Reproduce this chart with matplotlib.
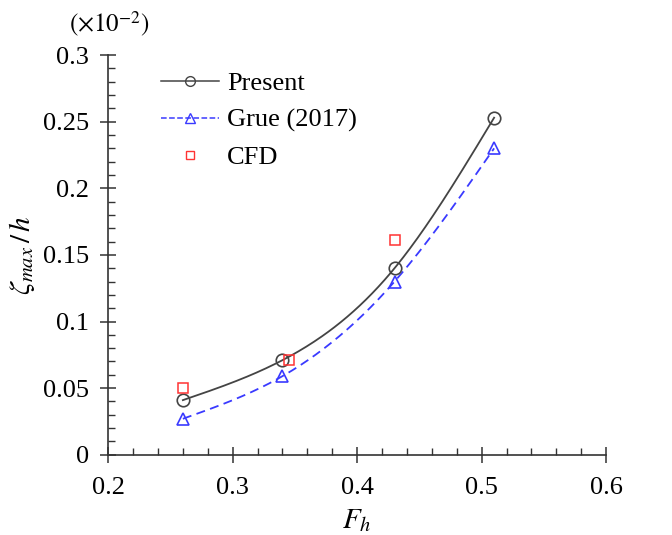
import numpy as np
import matplotlib.pyplot as plt
from matplotlib.ticker import MultipleLocator

plt.rcParams['font.family'] = ['Liberation Serif', 'DejaVu Serif']
plt.rcParams['mathtext.fontset'] = 'stix'

# data (values in units of 1e-2)
fh = [0.26, 0.34, 0.43, 0.51]
present = [0.041, 0.071, 0.140, 0.253]
grue = [0.027, 0.059, 0.130, 0.230]
cfd_fh = [0.26, 0.345, 0.43]
cfd = [0.050, 0.071, 0.161]


def spline(x, y, n=200):
    # natural cubic spline for a smooth curve through the points
    x = np.asarray(x, float)
    y = np.asarray(y, float)
    k = len(x)
    h = np.diff(x)
    A = np.zeros((k, k))
    b = np.zeros(k)
    A[0, 0] = A[-1, -1] = 1
    for i in range(1, k - 1):
        A[i, i - 1] = h[i - 1]
        A[i, i] = 2 * (h[i - 1] + h[i])
        A[i, i + 1] = h[i]
        b[i] = 6 * ((y[i + 1] - y[i]) / h[i] - (y[i] - y[i - 1]) / h[i - 1])
    m = np.linalg.solve(A, b)
    xs = np.linspace(x[0], x[-1], n)
    idx = np.clip(np.searchsorted(x, xs) - 1, 0, k - 2)
    t = xs - x[idx]
    hi = h[idx]
    a = y[idx]
    bb = (y[idx + 1] - y[idx]) / hi - hi * (2 * m[idx] + m[idx + 1]) / 6
    c = m[idx] / 2
    d = (m[idx + 1] - m[idx]) / (6 * hi)
    return xs, a + bb * t + c * t ** 2 + d * t ** 3


fig = plt.figure(figsize=(6.72, 5.35), dpi=100)
ax = fig.add_axes([0.161, 0.150, 0.741, 0.747])

xs, ys = spline(fh, present)
ax.plot(xs, ys, color='#444444', lw=1.3)
xs, ys = spline(fh, grue)
ax.plot(xs, ys, color='#3a3aff', lw=1.3, ls=(0, (5, 3)))

ax.plot(fh, present, 'o', mfc='none', mec='#444444', ms=9, mew=1.2)
ax.plot(fh, grue, '^', mfc='none', mec='#3a3aff', ms=9, mew=1.2)
ax.plot(cfd_fh, cfd, 's', mfc='none', mec='#ff3333', ms=7, mew=1.1)

# legend handles
ax.plot([], [], '-o', color='#444444', mfc='none', ms=7, lw=1.1, label='Present')
ax.plot([], [], '--^', color='#3a3aff', mfc='none', ms=7, lw=1.1, label='Grue (2017)')
ax.plot([], [], 's', color='#ff3333', mfc='none', ms=6, label='CFD')
handles, labels = ax.get_legend_handles_labels()
ax.legend(handles[-3:], labels[-3:], loc='upper left', bbox_to_anchor=(0.085, 0.985),
          borderaxespad=0, frameon=False, fontsize=19, handlelength=2.2,
          handletextpad=0.3, labelspacing=0.5)

ax.set_xlim(0.2, 0.6)
ax.set_ylim(0, 0.3)
ax.xaxis.set_major_locator(MultipleLocator(0.1))
ax.xaxis.set_minor_locator(MultipleLocator(0.02))
ax.yaxis.set_major_locator(MultipleLocator(0.05))
ax.yaxis.set_minor_locator(MultipleLocator(0.01))
ax.set_xticks([0.2, 0.3, 0.4, 0.5, 0.6], ['0.2', '0.3', '0.4', '0.5', '0.6'])
ax.set_yticks([0, 0.05, 0.1, 0.15, 0.2, 0.25, 0.3], ['0', '0.05', '0.1', '0.15', '0.2', '0.25', '0.3'])
ax.tick_params(which='major', direction='inout', length=12, width=1.1, labelsize=19, color='#333333')
ax.tick_params(which='minor', direction='in', length=5, width=1, color='#333333')
ax.tick_params(axis='x', pad=10)
ax.tick_params(axis='y', pad=8)

for s in ['top', 'right']:
    ax.spines[s].set_visible(False)
for s in ['left', 'bottom']:
    ax.spines[s].set_linewidth(1.2)
    ax.spines[s].set_color('#333333')

ax.set_xlabel(r'$F_h$', fontsize=21, labelpad=6)
ax.set_ylabel(r'$\zeta_{max}\,/\,h$', fontsize=21, labelpad=4)
fig.text(0.102, 0.955, r'$(\times10^{-2})$', fontsize=18, ha='left', va='center')

fig.savefig('out.png', dpi=100)
